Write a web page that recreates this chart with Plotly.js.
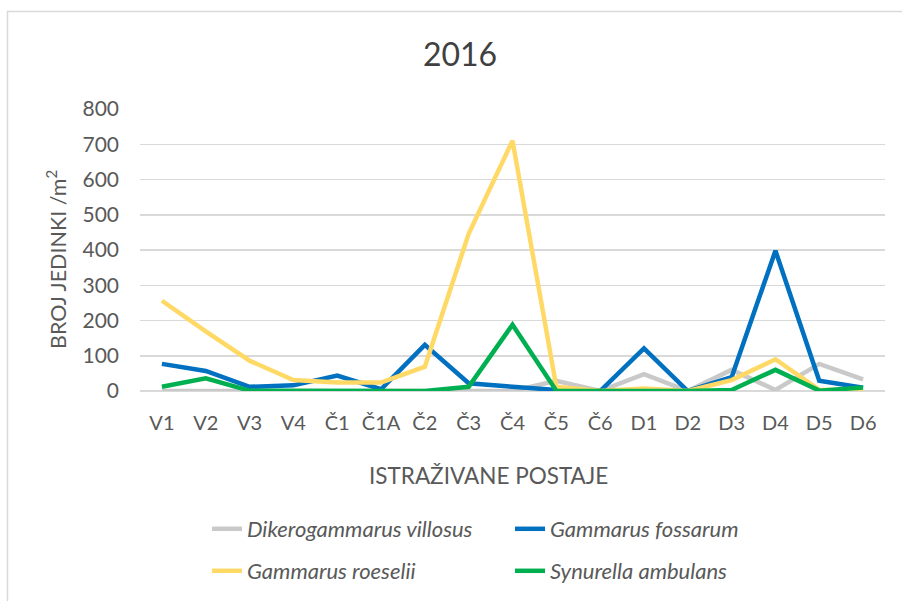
<!DOCTYPE html>
<html>
<head>
<meta charset="utf-8">
<script src="https://cdn.plot.ly/plotly-3.0.1.min.js"></script>
<style>html,body{margin:0;padding:0;background:#fff;}#chart{width:902px;height:601px;}</style>
</head>
<body>
<div id="chart"></div>
<script>
const stations = ["V1","V2","V3","V4","Č1","Č1A","Č2","Č3","Č4","Č5","Č6","D1","D2","D3","D4","D5","D6"];
const dikerogammarusVillosus = [0,0,0,0,0,0,0,0,0,29,0,48,0,60,3,77,33];
const gammarusFossarum = [77,57,12,16,44,5,131,22,12,3,0,121,0,39,398,29,9];
const gammarusRoeselii = [256,169,86,31,24,24,69,446,710,12,0,7,0,31,90,3,3];
const synurellaAmbulans = [12,36,1,0,0,0,0,12,188,1,0,0,0,3,60,1,10];
const yTicks = [0,100,200,300,400,500,600,700,800];

const FONT = "Lato, 'Open Sans', sans-serif";
const mk = (name, y, color, legend) => ({
  type: "scatter", mode: "lines", name: name, x: stations, y: y,
  line: {color: color, width: 4.5}, legend: legend, hoverinfo: "x+y+name"
});

const traces = [
  mk("Dikerogammarus villosus", dikerogammarusVillosus, "#c9c9c9", "legend"),
  mk("Gammarus fossarum", gammarusFossarum, "#0070c0", "legend"),
  mk("Gammarus roeselii", gammarusRoeselii, "#ffd966", "legend2"),
  mk("Synurella ambulans", synurellaAmbulans, "#00b050", "legend2")
];

const legendCommon = {
  orientation: "h", xanchor: "left", yanchor: "middle",
  xref: "container", yref: "container",
  font: {family: FONT, size: 22, color: "#595959", style: "italic"},
  entrywidth: 258, entrywidthmode: "pixels", bgcolor: "rgba(0,0,0,0)"
};

const layout = {
  width: 902, height: 601,
  margin: {l: 140, r: 17, t: 109, b: 210},
  paper_bgcolor: "#ffffff", plot_bgcolor: "#ffffff",
  font: {family: FONT, color: "#595959"},
  title: {text: "2016", font: {family: FONT, size: 32, color: "#404040"}, x: 460 / 902, xref: "container", xanchor: "center", y: 0.908, yanchor: "middle"},
  xaxis: {
    type: "category", range: [-0.5, stations.length - 0.5],
    showgrid: false, zeroline: false, showline: false,
    ticks: "", tickfont: {family: FONT, size: 20, color: "#595959"},
    ticklabelstandoff: 18, automargin: false
  },
  yaxis: {
    range: [0, 800], tickvals: yTicks, ticktext: yTicks.map(String),
    showgrid: true, gridcolor: "#d9d9d9", gridwidth: 1.5,
    zeroline: true, zerolinecolor: "#d9d9d9", zerolinewidth: 1.5, showline: false,
    ticks: "", tickfont: {family: FONT, size: 21, color: "#595959"},
    ticklabelstandoff: 20, automargin: false
  },
  annotations: [
    {text: "BROJ JEDINKI /m<sup>2</sup>", xref: "paper", yref: "paper",
     x: (56 - 140) / 745, y: (391 - 260) / 282, xanchor: "center", yanchor: "middle",
     textangle: -90, showarrow: false, font: {family: FONT, size: 21.5, color: "#595959"}},
    {text: "ISTRAŽIVANE POSTAJE", xref: "paper", yref: "paper",
     x: (488 - 140) / 745, y: (391 - 475) / 282, xanchor: "center", yanchor: "middle",
     showarrow: false, font: {family: FONT, size: 22.5, color: "#595959"}}
  ],
  legend: Object.assign({x: 207 / 902, y: 1 - 529 / 601}, legendCommon),
  legend2: Object.assign({x: 207 / 902, y: 1 - 571 / 601}, legendCommon),
  showlegend: true,
  shapes: [{
    type: "rect", xref: "paper", yref: "paper",
    x0: (7.5 - 140) / 745, x1: (920 - 140) / 745,
    y0: (391 - 620) / 282, y1: (391 - 11.5) / 282,
    line: {color: "#d9d9d9", width: 1.5}, fillcolor: "rgba(0,0,0,0)", layer: "below"
  }]
};

Plotly.newPlot("chart", traces, layout, {displayModeBar: false, staticPlot: true});
</script>
</body>
</html>
